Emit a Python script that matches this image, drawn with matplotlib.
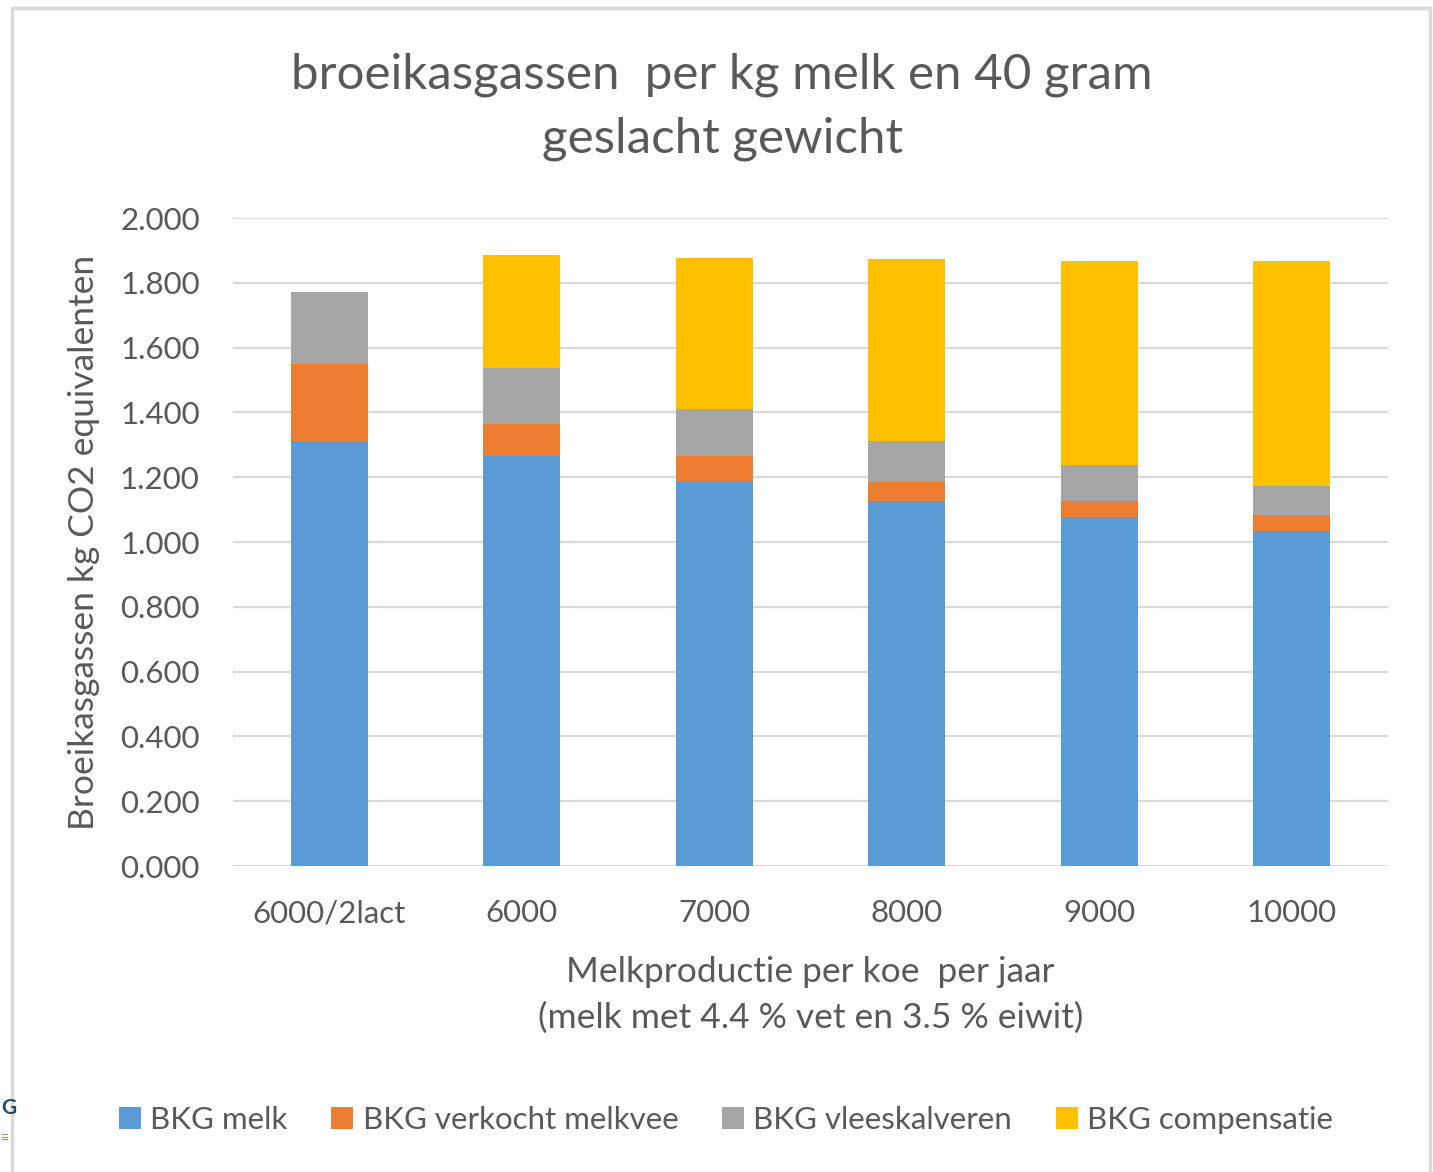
import numpy as np
import matplotlib.pyplot as plt
from matplotlib.patches import Rectangle

plt.rcParams['font.family'] = ['Lato', 'DejaVu Sans']

categories = ['6000/2lact', '6000', '7000', '8000', '9000', '10000']
bkg_melk = [1.312, 1.265, 1.185, 1.127, 1.076, 1.035]
bkg_verkocht = [0.237, 0.100, 0.081, 0.059, 0.051, 0.047]
bkg_kalveren = [0.224, 0.173, 0.144, 0.127, 0.110, 0.092]
bkg_compensatie = [0.0, 0.347, 0.467, 0.559, 0.630, 0.693]

series = [
    ('BKG melk', bkg_melk, '#5b9bd5'),
    ('BKG verkocht melkvee', bkg_verkocht, '#ed7d31'),
    ('BKG vleeskalveren', bkg_kalveren, '#a5a5a5'),
    ('BKG compensatie', bkg_compensatie, '#ffc000'),
]

text_col = '#595959'

fig = plt.figure(figsize=(14.33, 11.72), dpi=100)
ax = fig.add_axes([233 / 1433, 1 - 866 / 1172, 1155 / 1433, 648 / 1172])

x = np.arange(len(categories))
bottom = np.zeros(len(categories))
for name, vals, col in series:
    vals = np.array(vals)
    ax.bar(x, vals, width=0.4, bottom=bottom, color=col, label=name, zorder=3)
    bottom += vals

ax.set_xlim(-0.5, len(categories) - 0.5)
ax.set_ylim(0, 2.0)
ax.set_yticks(np.arange(0, 2.01, 0.2))
ax.set_yticklabels(['%.3f' % v for v in np.arange(0, 2.01, 0.2)])
ax.set_xticks(x)
ax.set_xticklabels(categories)
ax.tick_params(axis='both', length=0, labelsize=22.5, labelcolor=text_col)
ax.tick_params(axis='y', pad=24)
ax.tick_params(axis='x', pad=24)
ax.yaxis.grid(True, color='#d9d9d9', linewidth=1.6, zorder=0)
for s in ax.spines.values():
    s.set_visible(False)

ax.set_ylabel('Broeikasgassen kg CO2 equivalenten', fontsize=25.5, color=text_col, labelpad=14)
ax.set_xlabel('Melkproductie per koe  per jaar\n(melk met 4.4 % vet en 3.5 % eiwit)',
              fontsize=25.5, color=text_col, labelpad=21, linespacing=1.5)

fig.text(722 / 1433, 1 - 107 / 1172, 'broeikasgassen  per kg melk en 40 gram\ngeslacht gewicht',
         ha='center', va='center', fontsize=35.5, color=text_col, linespacing=1.55)

leg = fig.legend(loc='center', bbox_to_anchor=(726 / 1433, 1 - 1120 / 1172), ncol=4,
                 frameon=False, fontsize=22.5, handlelength=0.7, handleheight=0.7,
                 handletextpad=0.3, columnspacing=1.4)
for t in leg.get_texts():
    t.set_color(text_col)

# chart border
fig.patches.append(Rectangle((12 / 1433, -0.01), 1418 / 1433, 1 - 8 / 1172 + 0.01,
                             transform=fig.transFigure, fill=False,
                             edgecolor='#d9d9d9', linewidth=2.5))

# logo fragment at the left edge
fig.text(1 / 1433, 1 - 1108 / 1172, 'G', fontsize=15, fontweight='bold',
         color='#1f4e6b', ha='left', va='center')
fig.text(1 / 1433, 1 - 1138 / 1172, '\u2261', fontsize=10,
         color='#4db848', ha='left', va='center')

fig.savefig('out.png', dpi=100)
